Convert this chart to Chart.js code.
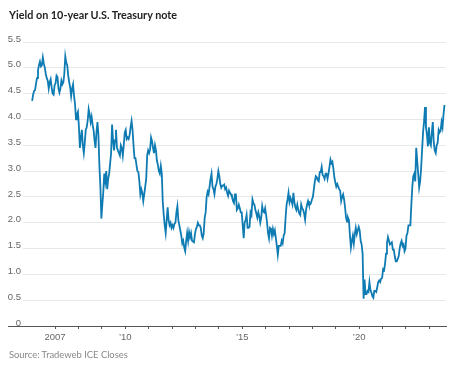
<!DOCTYPE html>
<html lang="en">
<head>
<meta charset="UTF-8">
<title>Yield on 10-year U.S. Treasury note</title>
<script src="https://cdn.jsdelivr.net/npm/chart.js"></script>
<style>
  body { margin: 0; background: #fff; }
  .chart { position: relative; width: 468px; height: 366px; }
  #yieldChart { position: absolute; left: 0; top: 0; }
  .title { position: absolute; left: 9px; top: 8px; font: bold 10.8px Lato, "Liberation Sans", sans-serif; color: #222; white-space: nowrap; }
  .source { position: absolute; left: 9px; top: 349px; font: 9.4px Lato, "Liberation Sans", sans-serif; color: #888; white-space: nowrap; }
</style>
</head>
<body onload="drawChart()">
<div class="chart">
  <canvas id="yieldChart" width="468" height="366"></canvas>
  <div class="title">Yield on 10-year U.S. Treasury note</div>
  <div class="source">Source: Tradeweb ICE Closes</div>
</div>

<script>
// two readings per month, starting January 2006
const firstYear = 2006
const readingsPerYear = 24
const yields = [
  // 2006
  4.36, 4.48, 4.55, 4.57, 4.70, 4.80, 4.95, 5.05, 5.12, 5.03, 5.05, 5.20,
  5.08, 5.00, 4.88, 4.80, 4.75, 4.60, 4.72, 4.78, 4.62, 4.50, 4.48, 4.66,
  // 2007
  4.70, 4.85, 4.82, 4.60, 4.52, 4.60, 4.75, 4.68, 4.72, 4.88, 5.22, 5.10,
  5.05, 4.85, 4.72, 4.62, 4.45, 4.60, 4.68, 4.45, 4.30, 4.00, 4.10, 4.15,
  // 2008
  3.85, 3.45, 3.65, 3.80, 3.50, 3.35, 3.55, 3.80, 3.85, 3.98, 4.20, 4.10,
  3.95, 4.05, 3.90, 3.80, 3.60, 3.45, 3.75, 3.95, 3.70, 3.10, 2.70, 2.08,
  // 2009
  2.35, 2.60, 2.95, 2.80, 3.00, 2.65, 2.85, 2.95, 3.15, 3.35, 3.90, 3.60,
  3.40, 3.60, 3.80, 3.45, 3.40, 3.35, 3.30, 3.50, 3.45, 3.30, 3.50, 3.75,
  // 2010
  3.80, 3.62, 3.65, 3.62, 3.70, 3.85, 3.97, 3.80, 3.50, 3.25, 3.25, 3.12,
  3.00, 2.98, 2.80, 2.55, 2.65, 2.58, 2.42, 2.55, 2.70, 2.85, 3.30, 3.40,
  // 2011
  3.35, 3.42, 3.65, 3.58, 3.45, 3.35, 3.50, 3.40, 3.20, 3.12, 3.00, 2.95,
  3.10, 2.95, 2.40, 2.15, 1.95, 1.80, 2.05, 2.30, 2.05, 1.95, 2.00, 1.90,
  // 2012
  1.95, 1.90, 1.98, 2.00, 2.20, 2.32, 2.05, 1.95, 1.85, 1.75, 1.60, 1.65,
  1.52, 1.45, 1.65, 1.80, 1.65, 1.82, 1.72, 1.80, 1.65, 1.65, 1.62, 1.78,
  // 2013
  1.88, 1.92, 2.00, 1.95, 1.95, 1.90, 1.75, 1.70, 1.80, 2.10, 2.20, 2.50,
  2.60, 2.55, 2.70, 2.85, 2.95, 2.70, 2.65, 2.55, 2.70, 2.75, 2.85, 3.00,
  // 2014
  2.90, 2.75, 2.68, 2.72, 2.72, 2.74, 2.65, 2.68, 2.58, 2.52, 2.62, 2.58,
  2.55, 2.50, 2.42, 2.38, 2.55, 2.55, 2.25, 2.28, 2.35, 2.28, 2.20, 2.20,
  // 2015
  1.95, 1.70, 2.00, 2.05, 2.15, 1.90, 1.90, 1.92, 2.20, 2.15, 2.45, 2.38,
  2.35, 2.25, 2.18, 2.10, 2.20, 2.12, 2.00, 2.10, 2.32, 2.22, 2.20, 2.28,
  // 2016
  2.15, 2.00, 1.80, 1.70, 1.90, 1.88, 1.75, 1.88, 1.78, 1.85, 1.70, 1.55,
  1.38, 1.55, 1.55, 1.55, 1.65, 1.60, 1.75, 1.80, 2.10, 2.35, 2.45, 2.58,
  // 2017
  2.40, 2.48, 2.42, 2.35, 2.58, 2.40, 2.30, 2.25, 2.35, 2.25, 2.18, 2.15,
  2.35, 2.28, 2.25, 2.18, 2.06, 2.25, 2.35, 2.42, 2.35, 2.35, 2.38, 2.45,
  // 2018
  2.50, 2.65, 2.80, 2.90, 2.88, 2.82, 2.80, 2.98, 2.98, 3.08, 2.92, 2.90,
  2.85, 2.95, 2.95, 2.85, 2.95, 3.08, 3.22, 3.15, 3.18, 3.05, 2.88, 2.78,
  // 2019
  2.70, 2.75, 2.70, 2.65, 2.62, 2.42, 2.50, 2.55, 2.45, 2.30, 2.10, 2.02,
  2.10, 2.05, 1.75, 1.52, 1.65, 1.75, 1.60, 1.78, 1.90, 1.78, 1.85, 1.92,
  // 2020
  1.85, 1.65, 1.58, 1.40, 0.53, 0.90, 0.62, 0.62, 0.68, 0.66, 0.85, 0.70,
  0.65, 0.58, 0.55, 0.68, 0.68, 0.66, 0.75, 0.85, 0.88, 0.85, 0.92, 0.93,
  // 2021
  1.10, 1.08, 1.20, 1.40, 1.60, 1.72, 1.65, 1.58, 1.60, 1.62, 1.48, 1.48,
  1.35, 1.25, 1.25, 1.30, 1.35, 1.50, 1.60, 1.65, 1.55, 1.58, 1.45, 1.50,
  // 2022
  1.75, 1.80, 1.95, 1.95, 1.95, 2.35, 2.70, 2.90, 2.95, 2.80, 3.45, 3.20,
  2.95, 2.68, 2.80, 3.05, 3.40, 3.75, 3.95, 4.24, 3.85, 3.70, 3.48, 3.85,
  // 2023
  3.55, 3.50, 3.75, 3.95, 3.55, 3.40, 3.35, 3.50, 3.55, 3.80, 3.75, 3.78,
  3.95, 3.85, 4.10, 4.28
]

const axisStart = 2005.63
const axisEnd = 2023.71
const tickYears = [2007, 2008, 2009, 2010, 2011, 2012, 2013, 2014, 2015,
  2016, 2017, 2018, 2019, 2020, 2021, 2022, 2023]
const labelYears = [2007, 2010, 2015, 2020]
const labelTexts = ['2007', '’10', '’15', '’20']
const yMin = 0
const yMax = 5.5
const yStep = 0.5

const tickFont = { family: '"Liberation Sans", sans-serif', size: 9.5 }

// baseline runs under the "0" label too
const baseLine = {
  id: 'baseLine',
  afterDraw(chart) {
    const c = chart.ctx
    const y = Math.round(chart.scales.y.getPixelForValue(0)) + 0.5
    c.save()
    c.strokeStyle = '#555'
    c.lineWidth = 1
    c.beginPath()
    c.moveTo(8, y)
    c.lineTo(chart.chartArea.right, y)
    c.stroke()
    c.restore()
  }
}

function drawChart() {
  const points = yields.map(function (v, i) {
    return { x: firstYear + (i + 0.5) / readingsPerYear, y: v }
  })

  const ctx = document.getElementById('yieldChart')

  new Chart(ctx, {
    type: 'line',
    data: {
      datasets: [{
        data: points,
        borderColor: '#0f7bb3',
        borderWidth: 1.8,
        pointRadius: 0,
        tension: 0
      }]
    },
    options: {
      responsive: false,
      animation: false,
      layout: { padding: { left: 0, right: 22, top: 42, bottom: 0 } },
      plugins: {
        legend: { display: false },
        tooltip: { enabled: false }
      },
      scales: {
        x: {
          type: 'linear',
          min: axisStart,
          max: axisEnd,
          afterBuildTicks: function (scale) {
            scale.ticks = tickYears.map(function (v) { return { value: v } })
          },
          afterFit: function (scale) { scale.height = 40 },
          ticks: {
            autoSkip: false,
            maxRotation: 0,
            padding: 3,
            color: '#666',
            font: tickFont,
            callback: function (v) {
              const k = labelYears.indexOf(v)
              return k >= 0 ? labelTexts[k] : ''
            }
          },
          grid: { drawOnChartArea: false, drawTicks: true, tickLength: 3, color: '#555' },
          border: { display: true, color: '#555' }
        },
        y: {
          min: yMin,
          max: yMax,
          afterFit: function (scale) { scale.width = 23 },
          ticks: {
            stepSize: yStep,
            padding: 2,
            labelOffset: -3,
            color: '#666',
            font: tickFont,
            callback: function (v) { return v === 0 ? '0' : v.toFixed(1) }
          },
          grid: { color: '#e8e8e8', drawTicks: false },
          border: { display: false }
        }
      }
    },
    plugins: [baseLine]
  })
}
</script>
</body>
</html>
